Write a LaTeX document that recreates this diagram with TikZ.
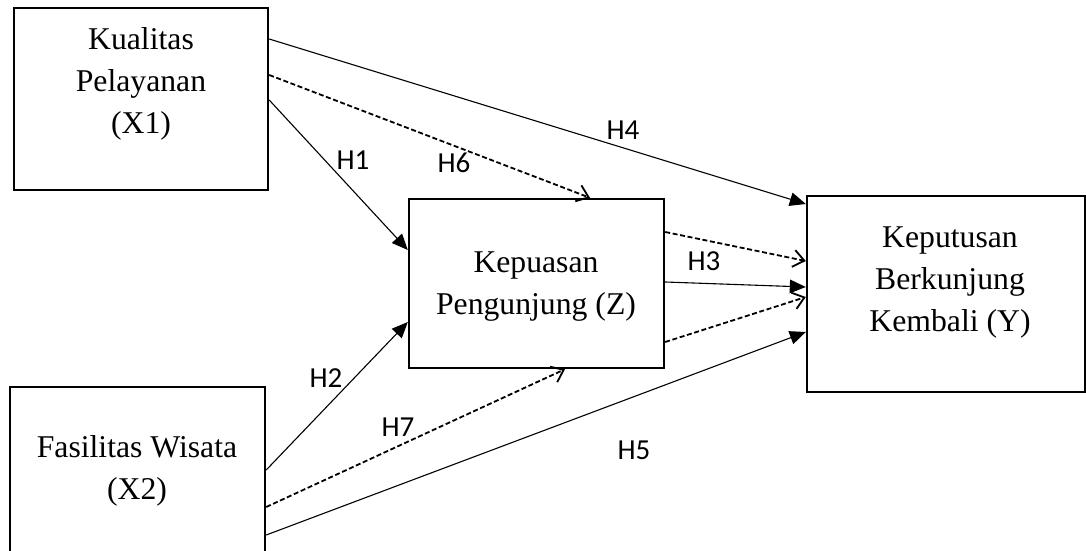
\documentclass[tikz,border=0pt]{standalone}
\usepackage{fontspec}
\setmainfont{Liberation Serif}
\newfontfamily\hypfont{Carlito}
\usetikzlibrary{arrows.meta,calc}

\begin{document}
\begin{tikzpicture}[x=0.5pt, y=-0.5pt,
		box/.style={draw, line width=1.2pt, inner sep=0pt},
		boxtext/.style={align=center, inner sep=0pt, font=\fontsize{15.85}{21}\selectfont},
		hyp/.style={inner sep=0pt, font=\hypfont\fontsize{14.5}{16}\selectfont},
		direct/.style={line width=0.55pt, -{Triangle[length=8pt,width=6.8pt]}},
		mediated/.style={line width=0.9pt, dash pattern=on 2.5pt off 1.3pt, -{Straight Barb[length=5.5pt,width=8.5pt]}}]
				\useasboundingbox (0,0) rectangle (1086,551);
				\clip (0,0) rectangle (1086,551);

				\node[box, minimum width=127pt, minimum height=91pt] (x1) at (141,99) {};
				\node[box, minimum width=127.5pt, minimum height=84.5pt] (z) at (536.5,283.5) {};
				\node[box, minimum width=139pt, minimum height=98pt] (y) at (946,294) {};
				\node[box, minimum width=127.5pt, minimum height=100pt] (x2) at (137.5,487) {};

				\node[boxtext] (x1text) at (141,84) {Kualitas\\Pelayanan\\(X1)};
				\node[boxtext] (ztext) at (536,286.5) {Kepuasan\\Pengunjung (Z)};
				\node[boxtext] (ytext) at (950,282.5) {Keputusan\\Berkunjung\\Kembali (Y)};
				\node[boxtext] (x2text) at (137,471) {Fasilitas Wisata\\(X2)};

				\draw[direct] ($(x1.east)+(0,-60)$) -- ($(y.west)+(0,-90)$);
				\draw[mediated] ($(x1.east)+(0,-24)$) -- ($(z.north)+(53.5,0)$);
				\draw[direct] ($(x1.east)+(0,1)$) -- ($(z.west)+(0,-33.5)$);
				\draw[mediated] ($(z.east)+(0,-51.5)$) -- ($(y.west)+(0,-33)$);
				\draw[direct] ($(z.east)+(0,-1.5)$) -- ($(y.west)+(0,-7)$);
				\draw[mediated] ($(z.east)+(0,58.5)$) -- ($(y.west)+(0,3)$);
				\draw[direct] ($(x2.east)+(0,-17)$) -- ($(z.west)+(0,38.5)$);
				\draw[mediated] ($(x2.east)+(0,20)$) -- ($(z.south)+(28.5,0)$);
				\draw[direct] ($(x2.east)+(0,48)$) -- ($(y.west)+(0,38)$);

				\node[hyp] (h1) at (353,160) {H1};
				\node[hyp] (h2) at (326,378) {H2};
				\node[hyp] (h3) at (704,261) {H3};
				\node[hyp] (h4) at (623,130) {H4};
				\node[hyp] (h5) at (634,450) {H5};
				\node[hyp] (h6) at (454,163) {H6};
				\node[hyp] (h7) at (398,427) {H7};
			\end{tikzpicture}
\end{document}
